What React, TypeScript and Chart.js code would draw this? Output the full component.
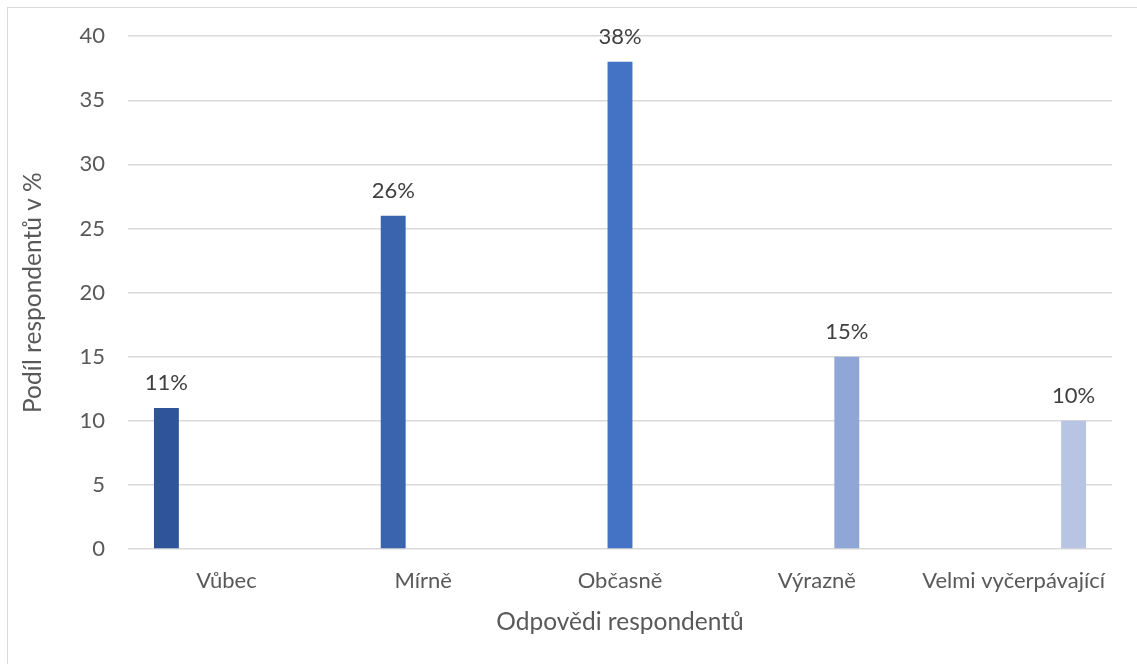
import React, { useEffect, useRef } from "react";
import { Chart, registerables } from "chart.js";

Chart.register(...registerables);

const categories = ["Vůbec", "Mírně", "Občasně", "Výrazně", "Velmi vyčerpávající"];
const values = [11, 26, 38, 15, 10];
const valueLabels = ["11%", "26%", "38%", "15%", "10%"];
const barColors = ["#30549A", "#3A65AE", "#4472C4", "#90A6D6", "#B8C4E3"];
const yTicks = [0, 5, 10, 15, 20, 25, 30, 35, 40];
const yTitle = "Podíl respondentů v %";
const xTitle = "Odpovědi respondentů";

const FONT = "Lato, 'Open Sans', sans-serif";
const TEXT = "#595959";

const labelPlugin = {
  id: "valueLabels",
  afterDatasetsDraw(chart: any) {
    const ctx = chart.ctx;
    ctx.save();
    ctx.font = `22px ${FONT}`;
    ctx.fillStyle = "#404040";
    ctx.textAlign = "center";
    ctx.textBaseline = "middle";
    chart.data.datasets.forEach((ds: any, di: number) => {
      const meta = chart.getDatasetMeta(di);
      meta.data.forEach((bar: any, i: number) => {
        if (ds.data[i] == null) return;
        ctx.fillText(valueLabels[i], bar.x, bar.y - 25);
      });
    });
    ctx.restore();
  },
};

export default function App() {
  const ref = useRef<HTMLCanvasElement | null>(null);
  useEffect(() => {
    if (!ref.current) return;
    const datasets = categories.map((c, i) => ({
      label: c,
      data: categories.map((_, j) => (j === i ? values[i] : null)),
      backgroundColor: barColors[i],
      borderWidth: 0,
      categoryPercentage: 0.762,
      barPercentage: 0.83,
    }));
    const chart = new Chart(ref.current, {
      type: "bar",
      data: { labels: categories, datasets },
      options: {
        animation: false,
        responsive: false,
        maintainAspectRatio: false,
        layout: { padding: { left: 0, right: 25, top: 36, bottom: 0 } },
        plugins: { legend: { display: false }, tooltip: { enabled: false } },
        scales: {
          x: {
            grid: { display: false, drawTicks: false },
            border: { display: false },
            ticks: { color: TEXT, font: { family: FONT, size: 22 }, padding: 19 },
            title: {
              display: true,
              text: xTitle,
              color: TEXT,
              font: { family: FONT, size: 24.5 },
              padding: { top: 0, bottom: 27.5 },
            },
            afterFit: (s: any) => {
              s.height = 115;
            },
          },
          y: {
            min: 0,
            max: 40,
            afterBuildTicks: (s: any) => {
              s.ticks = yTicks.map((v) => ({ value: v }));
            },
            grid: { color: "#D9D9D9", lineWidth: 1.5, drawTicks: false },
            border: { display: false },
            ticks: { color: TEXT, font: { family: FONT, size: 22 }, padding: 23 },
            title: {
              display: true,
              text: yTitle,
              color: TEXT,
              font: { family: FONT, size: 24.5 },
              padding: { top: 18.5, bottom: 0 },
            },
            afterFit: (s: any) => {
              s.width = 128;
            },
          },
        },
      },
      plugins: [labelPlugin],
    });
    return () => chart.destroy();
  }, []);
  return (
    <div style={{ position: "fixed", left: 0, top: 0, width: 1137, height: 664, overflow: "hidden", background: "#fff" }}>
      <div
        style={{
          position: "absolute",
          left: 7,
          top: 7,
          width: 1200,
          height: 700,
          borderTop: "1.5px solid #D9D9D9",
          borderLeft: "1.5px solid #D9D9D9",
        }}
      />
      <canvas ref={ref} width={1137} height={664} style={{ position: "absolute", left: 0, top: 0 }} />
    </div>
  );
}
